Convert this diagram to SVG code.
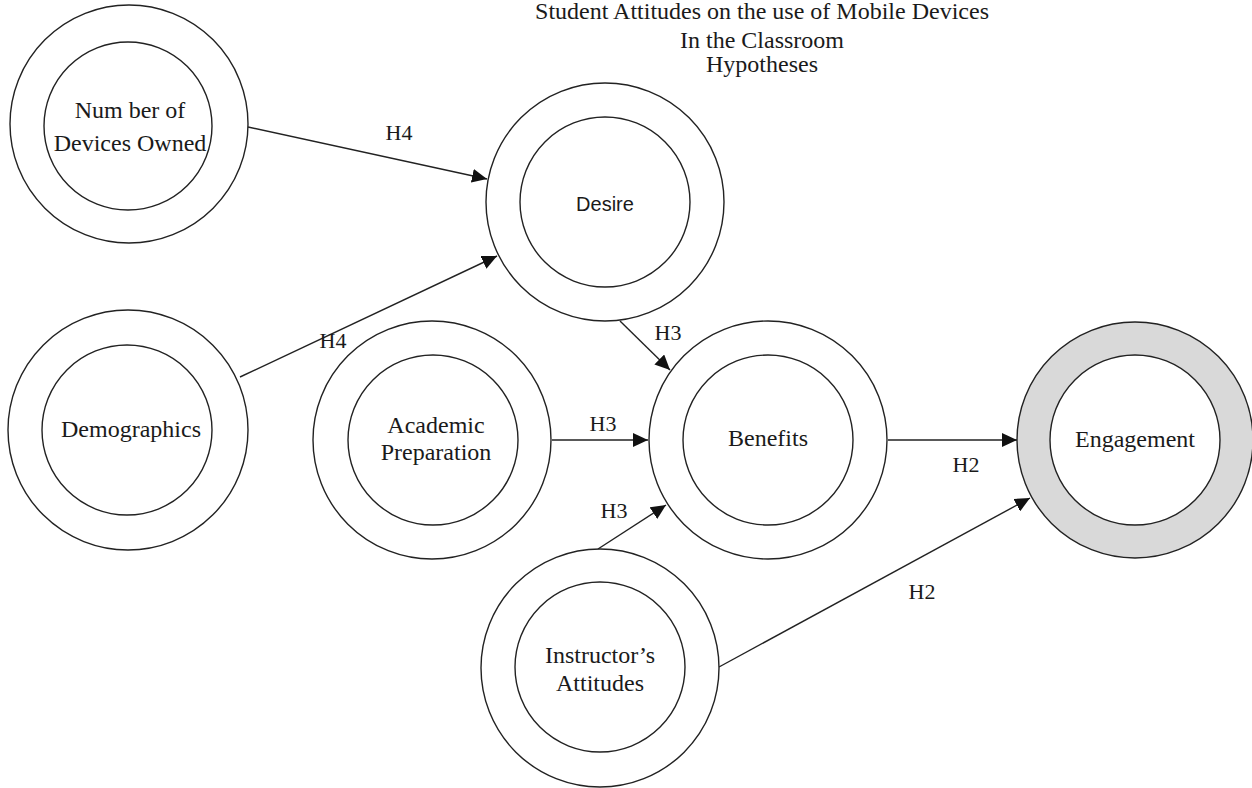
<svg xmlns="http://www.w3.org/2000/svg" width="1252" height="788" viewBox="0 0 1252 788">
<style>
.o{fill:#fff;stroke:#222;stroke-width:1.4}
.og{fill:#d9d9d9;stroke:#222;stroke-width:1.4}
.i{fill:#fff;stroke:#222;stroke-width:1.4}
.t{font-family:"Liberation Serif","Times New Roman",serif;font-size:24px;fill:#1a1a1a;text-anchor:middle}
.s{font-family:"Liberation Sans",Arial,sans-serif;font-size:20px;fill:#1a1a1a;text-anchor:middle}
.l{font-family:"Liberation Serif","Times New Roman",serif;font-size:22px;fill:#1a1a1a;text-anchor:middle}
.c{stroke:#222;stroke-width:1.4;fill:none;marker-end:url(#ah)}
</style>
<defs>
<marker id="ah" markerWidth="16" markerHeight="14" refX="15" refY="7" orient="auto" markerUnits="userSpaceOnUse">
<path d="M0,0 L15,7 L0,14 Z" fill="#111"/>
</marker>
</defs>
<rect width="1252" height="788" fill="#fff"/>
<g id="title">
<text class="t" x="762" y="19">Student Attitudes on the use of Mobile Devices</text>
<text class="t" x="762" y="48">In the Classroom</text>
<text class="t" x="762" y="72">Hypotheses</text>
</g>
<g id="connectors">
<line class="c" x1="248" y1="127" x2="487" y2="179"/>
<line class="c" x1="240" y1="377" x2="497" y2="256"/>
<line class="c" x1="620" y1="321" x2="670" y2="370"/>
<line class="c" x1="552" y1="440" x2="648" y2="440"/>
<line class="c" x1="598" y1="549" x2="666" y2="505"/>
<line class="c" x1="888" y1="440" x2="1017" y2="440"/>
<line class="c" x1="719" y1="667" x2="1030" y2="498"/>
<text class="l" x="399" y="140">H4</text>
<text class="l" x="333" y="348">H4</text>
<text class="l" x="668" y="340">H3</text>
<text class="l" x="603" y="431">H3</text>
<text class="l" x="614" y="518">H3</text>
<text class="l" x="966" y="472">H2</text>
<text class="l" x="922" y="599">H2</text>
</g>
<g id="devices">
<circle class="o" cx="129" cy="124" r="119"/>
<circle class="i" cx="128" cy="126" r="84"/>
<text class="t" x="130" y="118">Num ber of</text>
<text class="t" x="130" y="151">Devices Owned</text>
</g>
<g id="desire">
<circle class="o" cx="605" cy="202" r="119"/>
<circle class="i" cx="605" cy="202" r="85"/>
<text class="s" x="605" y="211">Desire</text>
</g>
<g id="demographics">
<circle class="o" cx="128" cy="430" r="120"/>
<circle class="i" cx="127" cy="430" r="85"/>
<text class="t" x="131" y="437">Demographics</text>
</g>
<g id="academic">
<circle class="o" cx="432" cy="440" r="119"/>
<circle class="i" cx="433" cy="440" r="85"/>
<text class="t" x="436" y="433">Academic</text>
<text class="t" x="436" y="460">Preparation</text>
</g>
<g id="benefits">
<circle class="o" cx="768" cy="440" r="119"/>
<circle class="i" cx="768" cy="440" r="85"/>
<text class="t" x="768" y="446">Benefits</text>
</g>
<g id="engagement">
<circle class="og" cx="1135" cy="440" r="118"/>
<circle class="i" cx="1135" cy="440" r="85"/>
<text class="t" x="1135" y="447">Engagement</text>
</g>
<g id="instructor">
<circle class="o" cx="600" cy="668" r="119"/>
<circle class="i" cx="600" cy="667" r="85"/>
<text class="t" x="600" y="663">Instructor’s</text>
<text class="t" x="600" y="691">Attitudes</text>
</g>
</svg>
